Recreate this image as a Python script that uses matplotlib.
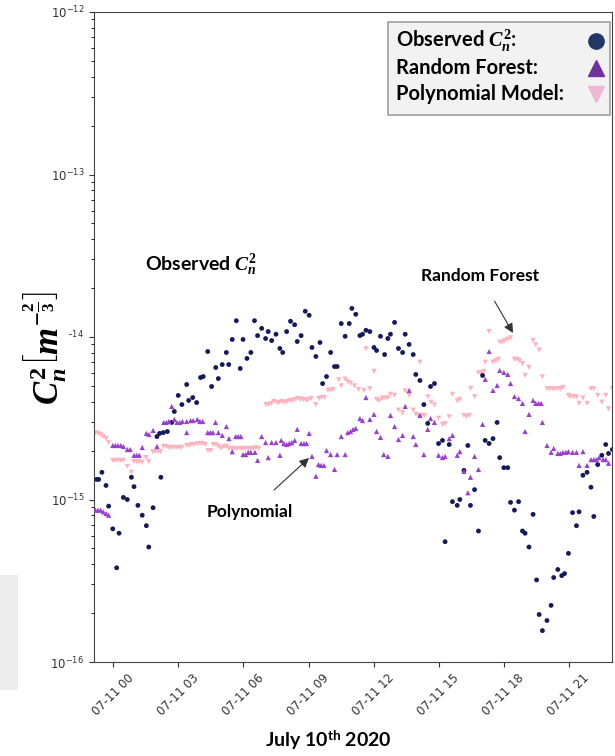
import matplotlib
matplotlib.use("Agg")
import matplotlib.pyplot as plt
import matplotlib.dates as mdates
from matplotlib.lines import Line2D
from matplotlib.patches import Rectangle
import numpy as np
import pandas as pd

# hours after 2020-07-11 00:00, values in units of 1e-15 m^-2/3
obs_hours = [-0.77, -0.68, -0.53, -0.34, -0.22, -0.03, 0.15, 0.26, 0.46, 0.64,
             0.83, 0.95, 1.13, 1.33, 1.52, 1.63, 1.83, 2.01, 2.13, 2.19,
             2.30, 2.49, 2.69, 2.81, 2.99, 3.16, 3.38, 3.47, 3.66, 3.84,
             4.02, 4.14, 4.35, 4.53, 4.72, 4.84, 5.02, 5.21, 5.32, 5.48,
             5.67, 5.85, 5.98, 6.16, 6.34, 6.51, 6.65, 6.84, 7.02, 7.14,
             7.30, 7.50, 7.68, 7.81, 7.99, 8.17, 8.36, 8.48, 8.66, 8.85,
             9.03, 9.16, 9.34, 9.53, 9.65, 9.83, 10.02, 10.20, 10.32, 10.51,
             10.69, 10.88, 11.00, 11.18, 11.37, 11.49, 11.65, 11.83, 12.02, 12.14,
             12.32, 12.51, 12.66, 12.78, 12.97, 13.15, 13.34, 13.46, 13.64, 13.83,
             13.95, 14.14, 14.32, 14.50, 14.63, 14.81, 15.00, 15.18, 15.30, 15.49,
             15.64, 15.86, 15.98, 16.17, 16.35, 16.47, 16.66, 16.84, 17.03, 17.15,
             17.33, 17.51, 17.70, 17.82, 18.01, 18.19, 18.32, 18.50, 18.69, 18.87,
             18.99, 19.17, 19.36, 19.52, 19.64, 19.79, 20.00, 20.19, 20.31, 20.50,
             20.68, 20.81, 20.99, 21.18, 21.36, 21.48, 21.66, 21.85, 22.03, 22.16,
             22.34, 22.53, 22.71, 22.84, 23.02]
obs_vals = [1.33, 1.33, 1.47, 1.22, 0.91, 0.66, 0.38, 0.62, 1.03, 1.00,
            1.37, 1.20, 0.92, 0.80, 0.69, 0.51, 0.89, 2.44, 2.55, 1.37,
            2.58, 2.62, 2.98, 3.48, 4.37, 3.84, 5.10, 4.07, 4.24, 3.95,
            5.63, 5.71, 8.14, 4.96, 6.49, 5.55, 6.77, 8.03, 6.77, 9.66,
            12.6, 6.40, 9.66, 7.38, 8.03, 12.6, 10.2, 11.3, 9.79, 10.8,
            9.51, 10.4, 8.50, 8.03, 10.8, 12.5, 11.9, 9.38, 10.2, 14.4,
            13.6, 8.62, 7.59, 9.25, 5.17, 5.71, 8.03, 6.58, 6.58, 12.1,
            10.1, 12.1, 15.0, 13.8, 10.2, 10.4, 11.0, 10.8, 8.62, 8.26,
            10.1, 7.80, 9.79, 10.4, 12.3, 8.50, 8.03, 10.4, 9.00, 7.80,
            5.88, 5.40, 3.84, 2.94, 4.96, 5.17, 2.21, 2.31, 0.55, 2.18,
            0.97, 0.92, 1.00, 1.51, 2.15, 0.92, 1.15, 0.64, 5.80, 2.31,
            2.21, 2.37, 2.98, 1.81, 1.57, 1.57, 0.96, 0.86, 0.97, 0.64,
            0.62, 0.51, 0.81, 0.32, 0.196, 0.156, 0.18, 0.223, 0.331, 0.371,
            0.34, 0.35, 0.466, 0.83, 0.69, 0.84, 1.41, 1.47, 1.19, 0.786,
            1.64, 1.87, 2.18, 1.92, 2.03]

rf_hours = [-0.83, -0.71, -0.59, -0.47, -0.34, -0.22, -0.03, 0.09, 0.21, 0.34,
            0.46, 0.64, 0.77, 0.95, 1.07, 1.19, 1.33, 1.52, 1.64, 1.83,
            2.01, 2.32, 2.44, 2.56, 2.69, 2.81, 2.93, 3.06, 3.18, 3.38,
            3.38, 3.56, 3.68, 3.87, 3.99, 4.12, 4.35, 4.47, 4.59, 4.71,
            4.84, 5.02, 5.21, 5.33, 5.48, 5.64, 5.76, 5.88, 5.98, 6.10,
            6.22, 6.34, 6.53, 6.65, 6.84, 7.02, 7.14, 7.30, 7.50, 7.68,
            7.74, 7.86, 7.99, 8.11, 8.23, 8.36, 8.48, 8.66, 8.79, 8.91,
            9.03, 9.16, 9.34, 9.46, 9.58, 9.71, 9.83, 10.02, 10.20, 10.32,
            10.51, 10.69, 10.81, 10.94, 11.06, 11.18, 11.37, 11.49, 11.65, 11.83,
            12.02, 12.14, 12.32, 12.47, 12.66, 12.78, 12.97, 13.15, 13.34, 13.46,
            13.64, 13.83, 13.95, 14.14, 14.32, 14.50, 14.63, 14.81, 15.00, 15.18,
            15.30, 15.49, 15.64, 15.86, 15.98, 16.17, 16.35, 16.47, 16.66, 16.84,
            17.03, 17.15, 17.33, 17.51, 17.70, 17.82, 18.01, 18.19, 18.32, 18.50,
            18.69, 18.87, 18.99, 19.17, 19.36, 19.48, 19.61, 19.73, 19.79, 20.00,
            20.19, 20.31, 20.50, 20.62, 20.74, 20.87, 20.99, 21.18, 21.36, 21.48,
            21.66, 21.85, 22.03, 22.16, 22.28, 22.40, 22.59, 22.71, 22.84]
rf_vals = [0.86, 0.86, 0.86, 0.84, 0.82, 0.80, 2.15, 2.15, 2.15, 2.15,
           2.12, 2.03, 2.03, 1.87, 1.87, 1.87, 2.09, 2.55, 2.51, 2.66,
           2.12, 2.98, 2.98, 3.02, 3.74, 3.11, 2.98, 2.98, 3.02, 3.02,
           2.58, 3.06, 3.06, 3.11, 3.02, 3.02, 2.58, 2.58, 2.58, 2.98,
           2.58, 2.48, 2.81, 2.37, 1.97, 2.44, 2.44, 2.44, 1.89, 1.89,
           1.95, 1.95, 1.95, 1.74, 2.44, 2.24, 1.81, 2.24, 2.24, 1.87,
           2.31, 2.21, 2.18, 2.21, 2.24, 2.31, 2.70, 2.21, 2.21, 2.21,
           2.55, 1.84, 1.39, 1.64, 1.62, 1.62, 2.00, 1.89, 1.53, 1.89,
           2.44, 1.89, 2.58, 2.62, 2.70, 2.74, 3.15, 3.06, 4.24, 3.11,
           3.34, 2.62, 2.41, 1.89, 1.84, 3.29, 2.81, 2.34, 2.48, 3.74,
           4.69, 2.44, 2.18, 3.29, 1.89, 2.70, 3.15, 2.98, 1.87, 1.81,
           1.84, 2.37, 2.48, 1.87, 1.97, 1.49, 1.10, 1.37, 1.84, 1.53,
           2.90, 5.49, 8.14, 4.69, 5.03, 6.22, 6.05, 5.88, 5.17, 4.30,
           4.18, 3.90, 2.62, 3.34, 4.07, 3.90, 3.90, 3.90, 2.98, 2.15,
           1.95, 2.06, 1.92, 1.92, 1.95, 1.95, 1.97, 1.95, 1.95, 1.62,
           1.97, 1.62, 1.76, 1.76, 1.76, 1.81, 1.76, 1.76, 1.67]

poly_hours = [-0.83, -0.71, -0.59, -0.47, -0.34, -0.22, -0.03, 0.09, 0.21, 0.34,
              0.46, 0.64, 0.83, 0.95, 1.07, 1.19, 1.32, 1.50, 1.63, 1.81,
              1.93, 2.06, 2.18, 2.30, 2.43, 2.55, 2.67, 2.79, 2.92, 3.04,
              3.16, 3.38, 3.50, 3.62, 3.75, 3.87, 3.99, 4.12, 4.24, 4.36,
              4.49, 4.61, 4.73, 4.85, 4.97, 5.10, 5.22, 5.34, 5.47, 5.59,
              5.71, 5.84, 5.96, 6.08, 6.21, 6.33, 6.45, 6.57, 6.70, 7.04,
              7.16, 7.28, 7.40, 7.53, 7.65, 7.77, 7.89, 8.02, 8.14, 8.26,
              8.38, 8.51, 8.63, 8.76, 8.88, 9.00, 9.12, 9.33, 9.48, 9.60,
              9.73, 9.90, 10.02, 10.14, 10.39, 10.51, 10.69, 10.81, 10.94, 11.12,
              11.31, 11.55, 11.65, 11.83, 12.02, 12.14, 12.26, 12.41, 12.54, 12.66,
              12.78, 12.97, 13.15, 13.34, 13.46, 13.64, 13.83, 13.95, 14.07, 14.14,
              14.22, 14.35, 14.50, 14.65, 14.81, 15.00, 15.18, 15.30, 15.49, 15.64,
              15.86, 15.98, 16.17, 16.29, 16.42, 16.48, 16.66, 16.84, 16.96, 17.09,
              17.15, 17.33, 17.51, 17.64, 17.76, 17.82, 17.94, 18.06, 18.19, 18.32,
              18.50, 18.62, 18.74, 18.87, 18.99, 19.17, 19.36, 19.48, 19.64, 19.79,
              20.00, 20.12, 20.25, 20.37, 20.50, 20.62, 20.74, 20.99, 21.11, 21.24,
              21.36, 21.48, 21.66, 21.85, 22.03, 22.16, 22.34, 22.53, 22.71, 22.84,
              23.02]
poly_vals = [2.58, 2.55, 2.51, 2.44, 2.37, 2.24, 1.74, 1.74, 1.74, 1.74,
             1.74, 1.60, 1.47, 1.71, 1.71, 1.71, 1.69, 1.81, 1.71, 1.97,
             1.97, 1.97, 1.97, 2.12, 2.12, 2.09, 2.09, 2.09, 2.09, 2.09,
             2.09, 2.15, 2.15, 2.18, 2.18, 2.21, 2.21, 2.21, 2.18, 2.00,
             2.00, 2.18, 2.18, 2.12, 2.06, 2.12, 2.12, 2.06, 2.06, 2.06,
             2.06, 2.06, 2.06, 2.06, 2.06, 2.06, 2.06, 2.09, 2.06, 3.84,
             3.84, 3.90, 4.01, 3.95, 3.95, 4.01, 3.95, 4.01, 4.07, 4.07,
             4.13, 4.18, 4.13, 4.13, 4.07, 4.13, 4.18, 3.84, 4.18, 4.24,
             4.24, 4.70, 4.70, 4.75, 5.45, 5.00, 5.50, 5.30, 5.20, 5.00,
             4.75, 4.70, 8.47, 4.80, 6.14, 4.13, 4.05, 4.21, 4.21, 4.21,
             4.44, 4.37, 3.55, 3.42, 4.66, 4.37, 3.55, 3.35, 3.29, 7.00,
             3.29, 3.29, 4.29, 3.97, 3.82, 3.16, 2.90, 2.93, 3.23, 4.44,
             4.05, 4.13, 3.29, 3.23, 3.29, 4.83, 4.29, 6.02, 6.02, 6.14,
             7.00, 10.8, 7.00, 7.14, 7.29, 9.30, 9.30, 9.50, 9.69, 9.88,
             7.29, 7.29, 7.14, 6.87, 5.80, 6.49, 9.50, 8.94, 8.31, 5.69,
             4.80, 4.80, 4.80, 4.80, 4.80, 4.80, 4.89, 4.37, 4.29, 4.29,
             4.29, 3.90, 4.21, 3.90, 4.80, 4.80, 4.37, 3.97, 4.37, 3.61,
             4.80]

legend_labels = [r"Observed $C_n^2$:", "Random Forest:", "Polynomial Model:"]
legend_markers = ["o", "^", "v"]
legend_colors = ["#1f3864", "#7030a0", "#eeb7d6"]
xtick_hours = [0, 3, 6, 9, 12, 15, 18, 21]

plt.rcParams["mathtext.fontset"] = "custom"
plt.rcParams["mathtext.it"] = "Liberation Serif:italic:bold"
plt.rcParams["mathtext.rm"] = "Liberation Serif:bold"
plt.rcParams["mathtext.bf"] = "Liberation Serif:bold"
plt.rcParams["mathtext.sf"] = "Lato:bold"

base = pd.Timestamp("2020-07-11 00:00")


def to_time(hours):
    return base + pd.to_timedelta(np.array(hours), unit="h")


def fx(px):
    return px / 615


def fy(px):
    return 1 - px / 756


obs_c, rf_c, poly_c = "#141a5c", "#9a3fd0", "#ffb3c0"

fig = plt.figure(figsize=(6.15, 7.56), dpi=100)
ax = fig.add_axes([fx(94), fy(662), 518 / 615, 650 / 756])

ax.scatter(to_time(obs_hours), np.array(obs_vals) * 1e-15, s=12, marker="o",
           color=obs_c, edgecolors="none", zorder=3)
ax.scatter(to_time(rf_hours), np.array(rf_vals) * 1e-15, s=14, marker="^",
           color=rf_c, edgecolors="none", zorder=3)
ax.scatter(to_time(poly_hours), np.array(poly_vals) * 1e-15, s=14, marker="v",
           color=poly_c, edgecolors="none", zorder=2)

ax.set_yscale("log")
ax.set_ylim(1e-16, 1e-12)
ax.set_xlim(base - pd.Timedelta(hours=0.895), base + pd.Timedelta(hours=23.0))
ax.set_xticks(to_time(xtick_hours))
ax.xaxis.set_major_formatter(mdates.DateFormatter("%m-%d %H"))
ax.tick_params(axis="x", labelsize=8.5, rotation=45, colors="#333333")
ax.tick_params(axis="y", labelsize=8.5, colors="#333333")
for lab in ax.get_xticklabels():
    lab.set_ha("center")
for sp in ax.spines.values():
    sp.set_color("#444444")

# y label (drawn with a white box, it hides part of the 1e-14 tick label)
fig.text(fx(45), fy(348), r"$C_n^2\left[m^{-\frac{2}{3}}\right]$",
         rotation=90, ha="center", va="center", fontsize=25,
         bbox=dict(facecolor="white", edgecolor="none", pad=0))
fig.text(fx(328), fy(740), r"July 10$^{\mathsf{th}}$ 2020",
         ha="center", va="center", fontsize=14, family="Lato", weight="bold")

# annotations
fig.text(fx(145), fy(265), r"Observed $C_n^2$", ha="left", va="center",
         fontsize=14, family="Lato", weight="bold")
ax.annotate("Random Forest", xy=(fx(513), fy(333)), xycoords="figure fraction",
            xytext=(fx(480), fy(276)), textcoords="figure fraction",
            ha="center", va="center", fontsize=12.5, family="Lato", weight="bold",
            arrowprops=dict(arrowstyle="-|>", color="#333333", lw=0.8,
                            shrinkA=12, shrinkB=0, mutation_scale=14))
ax.annotate("Polynomial", xy=(fx(309), fy(458)), xycoords="figure fraction",
            xytext=(fx(250), fy(512)), textcoords="figure fraction",
            ha="center", va="center", fontsize=12.5, family="Lato", weight="bold",
            arrowprops=dict(arrowstyle="-|>", color="#333333", lw=0.8,
                            shrinkA=12, shrinkB=0, mutation_scale=14))

# legend box: text on the left, marker on the right
fig.add_artist(Rectangle((fx(388), fy(115)), 222 / 615, 93 / 756,
                         transform=fig.transFigure, facecolor="#f2f2f2",
                         edgecolor="#a6a6a6", lw=1.3, zorder=5))
for i, (lab, mk, col) in enumerate(zip(legend_labels, legend_markers, legend_colors)):
    row_y = fy(41 + i * 26.5)
    fig.text(fx(396), row_y, lab, ha="left", va="center", fontsize=14.5,
             family="Lato", weight="bold", zorder=6)
    fig.add_artist(Line2D([fx(596)], [row_y], ls="none", marker=mk, ms=11,
                          color=col, transform=fig.transFigure, zorder=6))

# faint grey block at the lower left of the screenshot
fig.add_artist(Rectangle((0, fy(690)), 18 / 615, 115 / 756,
                         transform=fig.transFigure, facecolor="#ececec",
                         edgecolor="none", zorder=0))

fig.savefig("out.png", dpi=100)
